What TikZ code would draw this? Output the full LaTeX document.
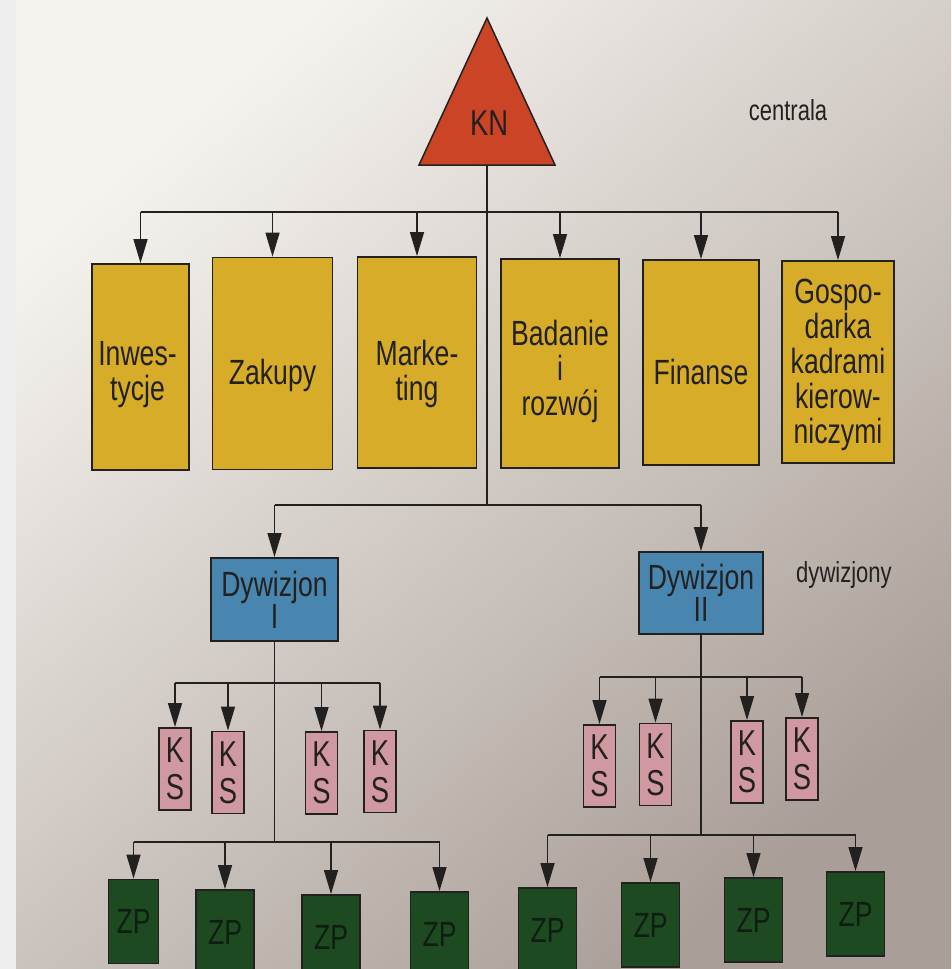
\documentclass[tikz,border=0pt]{standalone}
\usepackage{fontspec}
\setmainfont[FakeStretch=0.76]{Liberation Sans}
\usetikzlibrary{arrows.meta}
\definecolor{paperA}{RGB}{246,243,239}
\definecolor{paperM}{RGB}{218,209,203}
\definecolor{paperB}{RGB}{170,159,152}
\definecolor{stripc}{RGB}{238,238,238}
\definecolor{ink}{RGB}{35,33,32}
\definecolor{ylw}{RGB}{214,172,40}
\definecolor{redk}{RGB}{204,68,38}
\definecolor{blu}{RGB}{72,134,176}
\definecolor{pnk}{RGB}{208,152,160}
\definecolor{grn}{RGB}{30,74,34}
\definecolor{zpink}{RGB}{14,30,16}
\begin{document}
\begin{tikzpicture}[x=1pt,y=-1pt,
  box/.style={draw=ink,line width=1.8pt,inner sep=0pt,align=center,text=ink,
    font=\fontsize{35pt}{35pt}\selectfont},
  ybox/.style={box,fill=ylw},
  ytxt/.style={inner sep=0pt,align=center,text=ink,font=\fontsize{35pt}{35pt}\selectfont},
  dbox/.style={box,fill=blu,font=\fontsize{35pt}{32pt}\selectfont},
  kbox/.style={box,fill=pnk,minimum width=32pt,minimum height=82pt,
    font=\fontsize{36pt}{37pt}\selectfont},
  zbox/.style={box,fill=grn,minimum width=58pt,minimum height=84pt,text=zpink},
  ln/.style={draw=ink,line width=1.4pt},
  arr/.style={draw=ink,line width=1.4pt,-{Triangle[length=24pt,width=14pt]}},
  lbl/.style={font=\fontsize{29pt}{29pt}\selectfont,text=ink}]
\useasboundingbox (0,0) rectangle (951,969);
% paper
\shade[top color=paperA,middle color=paperM,bottom color=paperB,shading angle=40] (16,0) rectangle (951,969);
\fill[stripc] (0,0) rectangle (16,969);
% KN triangle
\filldraw[fill=redk,draw=ink,line width=1.5pt] (487,18) -- (555,165) -- (419,165) -- cycle;
\node[font=\fontsize{36pt}{36pt}\selectfont,text=ink] (kn) at (489,123) {KN};
\coordinate (knb) at (487,165);
\coordinate (tb) at (487,212);
\coordinate (db) at (487,505);
\node[lbl] (centrala) at (788,110) {centrala};
% departments
\node[ybox,minimum width=97pt,minimum height=206pt] (y1) at (140.5,367) {};
\node[ybox,minimum width=120pt,minimum height=212pt] (y2) at (272.5,363.5) {};
\node[ybox,minimum width=119pt,minimum height=211pt] (y3) at (417,362.5) {};
\node[ybox,minimum width=118pt,minimum height=209pt] (y4) at (560,363.5) {};
\node[ybox,minimum width=116pt,minimum height=205pt] (y5) at (701,362.5) {};
\node[ybox,minimum width=112pt,minimum height=202pt] (y6) at (838,362) {};
\node[ytxt] (y1t) at ([xshift=-3pt,yshift=-8pt]y1.center) {Inwes-\\tycje};
\node[ytxt] (y2t) at ([yshift=-12pt]y2.center) {Zakupy};
\node[ytxt] (y3t) at ([yshift=-11pt]y3.center) {Marke-\\ting};
\node[ytxt] (y4t) at ([yshift=-8pt]y4.center) {Badanie\\i\\rozwój};
\node[ytxt] (y5t) at ([yshift=-9pt]y5.center) {Finanse};
\node[ytxt] (y6t) at ([yshift=-3pt]y6.center) {Gospo-\\darka\\kadrami\\kierow-\\niczymi};
\draw[ln] (knb) -- (db);
\draw[ln] (y1.north |- tb) -- (y6.north |- tb);
\foreach \n in {y1,y2,y3,y4,y5,y6} \draw[arr] (\n.north |- tb) -- (\n.north);
% divisions
\node[dbox,minimum width=127pt,minimum height=83pt] (d1) at (274.5,599.5) {Dywizjon\\I};
\node[dbox,minimum width=124pt,minimum height=82pt] (d2) at (701,593) {Dywizjon\\II};
\node[lbl] (dyw) at (844,575) {dywizjony};
\draw[ln] (d1.north |- db) -- (d2.north |- db);
\draw[arr] (d1.north |- db) -- (d1.north);
\draw[arr] (d2.north |- db) -- (d2.north);
% KS boxes
\node[kbox] (k1) at (175,769) {K\\S};
\node[kbox] (k2) at (228,772.5) {K\\S};
\node[kbox] (k3) at (321.5,773) {K\\S};
\node[kbox] (k4) at (380,771.5) {K\\S};
\node[kbox] (k5) at (599.5,766) {K\\S};
\node[kbox] (k6) at (655.5,764.5) {K\\S};
\node[kbox] (k7) at (747,762) {K\\S};
\node[kbox] (k8) at (802,759) {K\\S};
\coordinate (kb1) at (274.5,683);
\coordinate (kb2) at (701,677);
\draw[ln] (k1.north |- kb1) -- (k4.north |- kb1);
\draw[ln] (k5.north |- kb2) -- (k8.north |- kb2);
\foreach \n in {k1,k2,k3,k4} \draw[arr] (\n.north |- kb1) -- (\n.north);
\foreach \n in {k5,k6,k7,k8} \draw[arr] (\n.north |- kb2) -- (\n.north);
% ZP boxes
\node[zbox,minimum width=50pt] (z1) at (133.5,921.5) {ZP};
\node[zbox] (z2) at (225,932) {ZP};
\node[zbox] (z3) at (331,937) {ZP};
\node[zbox] (z4) at (439.5,934) {ZP};
\node[zbox] (z5) at (547.5,930) {ZP};
\node[zbox] (z6) at (650.5,925) {ZP};
\node[zbox] (z7) at (753.5,920) {ZP};
\node[zbox] (z8) at (855.5,914) {ZP};
\coordinate (zb1) at (274.5,842);
\coordinate (zb2) at (701,835);
\draw[ln] (d1.south) -- (zb1);
\draw[ln] (d2.south) -- (zb2);
\draw[ln] (z1.north |- zb1) -- (z4.north |- zb1);
\draw[ln] (z5.north |- zb2) -- (z8.north |- zb2);
\foreach \n in {z1,z2,z3,z4} \draw[arr] (\n.north |- zb1) -- (\n.north);
\foreach \n in {z5,z6,z7,z8} \draw[arr] (\n.north |- zb2) -- (\n.north);
\end{tikzpicture}
\end{document}
